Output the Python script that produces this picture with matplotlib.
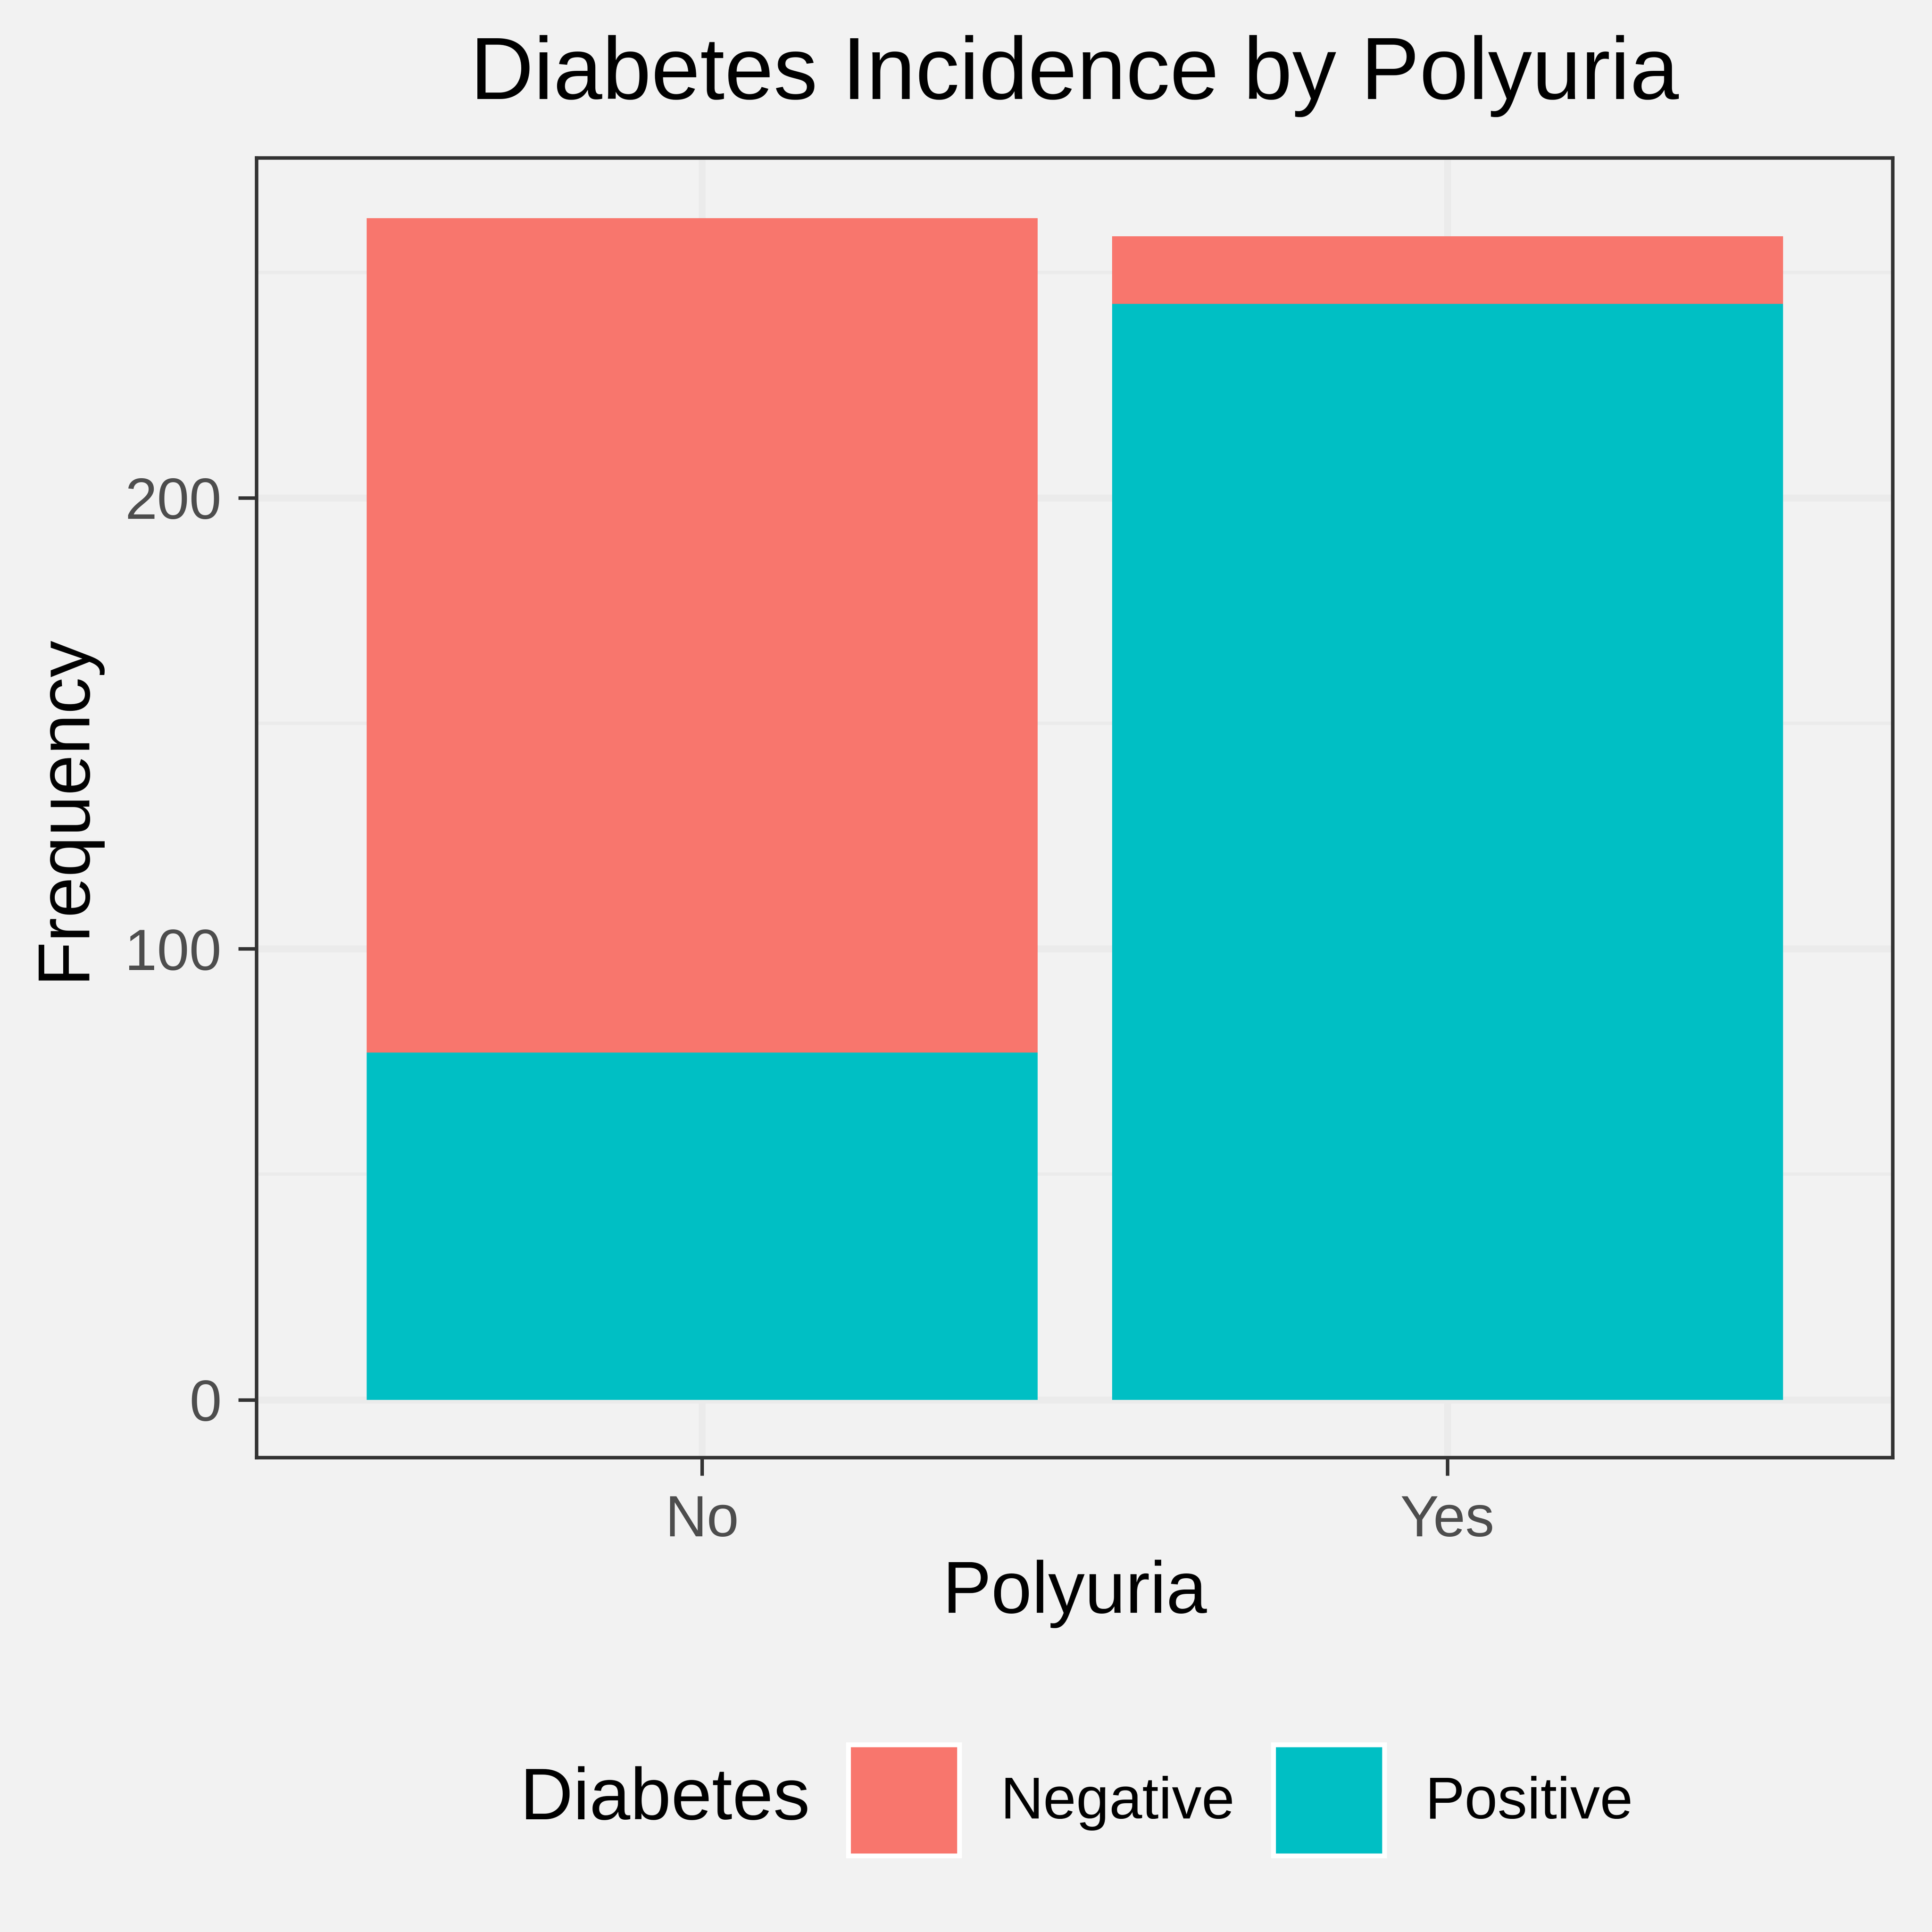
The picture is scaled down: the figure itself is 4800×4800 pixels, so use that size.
import matplotlib.pyplot as plt
from matplotlib.patches import Patch

plt.rcParams['font.family'] = ['Liberation Sans', 'DejaVu Sans']

# counts
polyuria = ['No', 'Yes']
positive = [77, 243]
negative = [185, 15]

pos_col = '#00BFC4'
neg_col = '#F8766D'
bg = '#F2F2F2'

fig = plt.figure(figsize=(16, 16), dpi=300, facecolor=bg)
ax = fig.add_axes([637 / 4800, 1 - 3621 / 4800, 4065 / 4800, 3229 / 4800])
ax.set_facecolor(bg)

x = list(range(len(polyuria)))
ax.bar(x, positive, width=0.9, color=pos_col, zorder=3)
ax.bar(x, negative, width=0.9, bottom=positive, color=neg_col, zorder=3)

ax.set_xlim(-0.598, 1.597)
ax.set_ylim(-12.8, 275.4)
ax.set_xticks(x)
ax.set_xticklabels(polyuria)
ax.set_yticks([0, 100, 200])
ax.set_yticks([50, 150, 250], minor=True)

ax.grid(True, which='major', color='#EBEBEB', linewidth=4.1, zorder=0)
ax.grid(True, which='minor', axis='y', color='#EBEBEB', linewidth=2.0, zorder=0)
ax.set_axisbelow(True)

for s in ax.spines.values():
    s.set_color('#333333')
    s.set_linewidth(2.1)
    s.set_zorder(4)

ax.tick_params(which='major', length=10.8, width=2.1, color='#333333',
               labelcolor='#4D4D4D', labelsize=34.5)
ax.tick_params(axis='y', pad=10)
ax.tick_params(axis='x', pad=11)
ax.tick_params(which='minor', length=0)

ax.set_title('Diabetes Incidence by Polyuria', fontsize=52.5, y=1.055, va='center')
ax.set_xlabel('Polyuria', fontsize=43.7, va='center')
ax.xaxis.set_label_coords(0.5, -0.105)
ax.set_ylabel('Frequency', fontsize=43.7, va='center')
ax.yaxis.set_label_coords(-0.117, 0.5)

# legend at the bottom, title on the left
fig.text(1292 / 4800, 0.0681, 'Diabetes', fontsize=43.8, ha='left', va='center')
handles = [Patch(facecolor=neg_col, edgecolor='white', linewidth=2.9),
           Patch(facecolor=pos_col, edgecolor='white', linewidth=2.9)]
fig.legend(handles, ['Negative', 'Positive'], loc='center left',
           bbox_to_anchor=(2108 / 4800, 0.0681), ncol=2, frameon=False,
           fontsize=35.4, handlelength=1.87, handleheight=2.5,
           handletextpad=0.69, columnspacing=0.65, borderpad=0,
           borderaxespad=0)

fig.savefig('out.png', dpi=300, facecolor=bg)
